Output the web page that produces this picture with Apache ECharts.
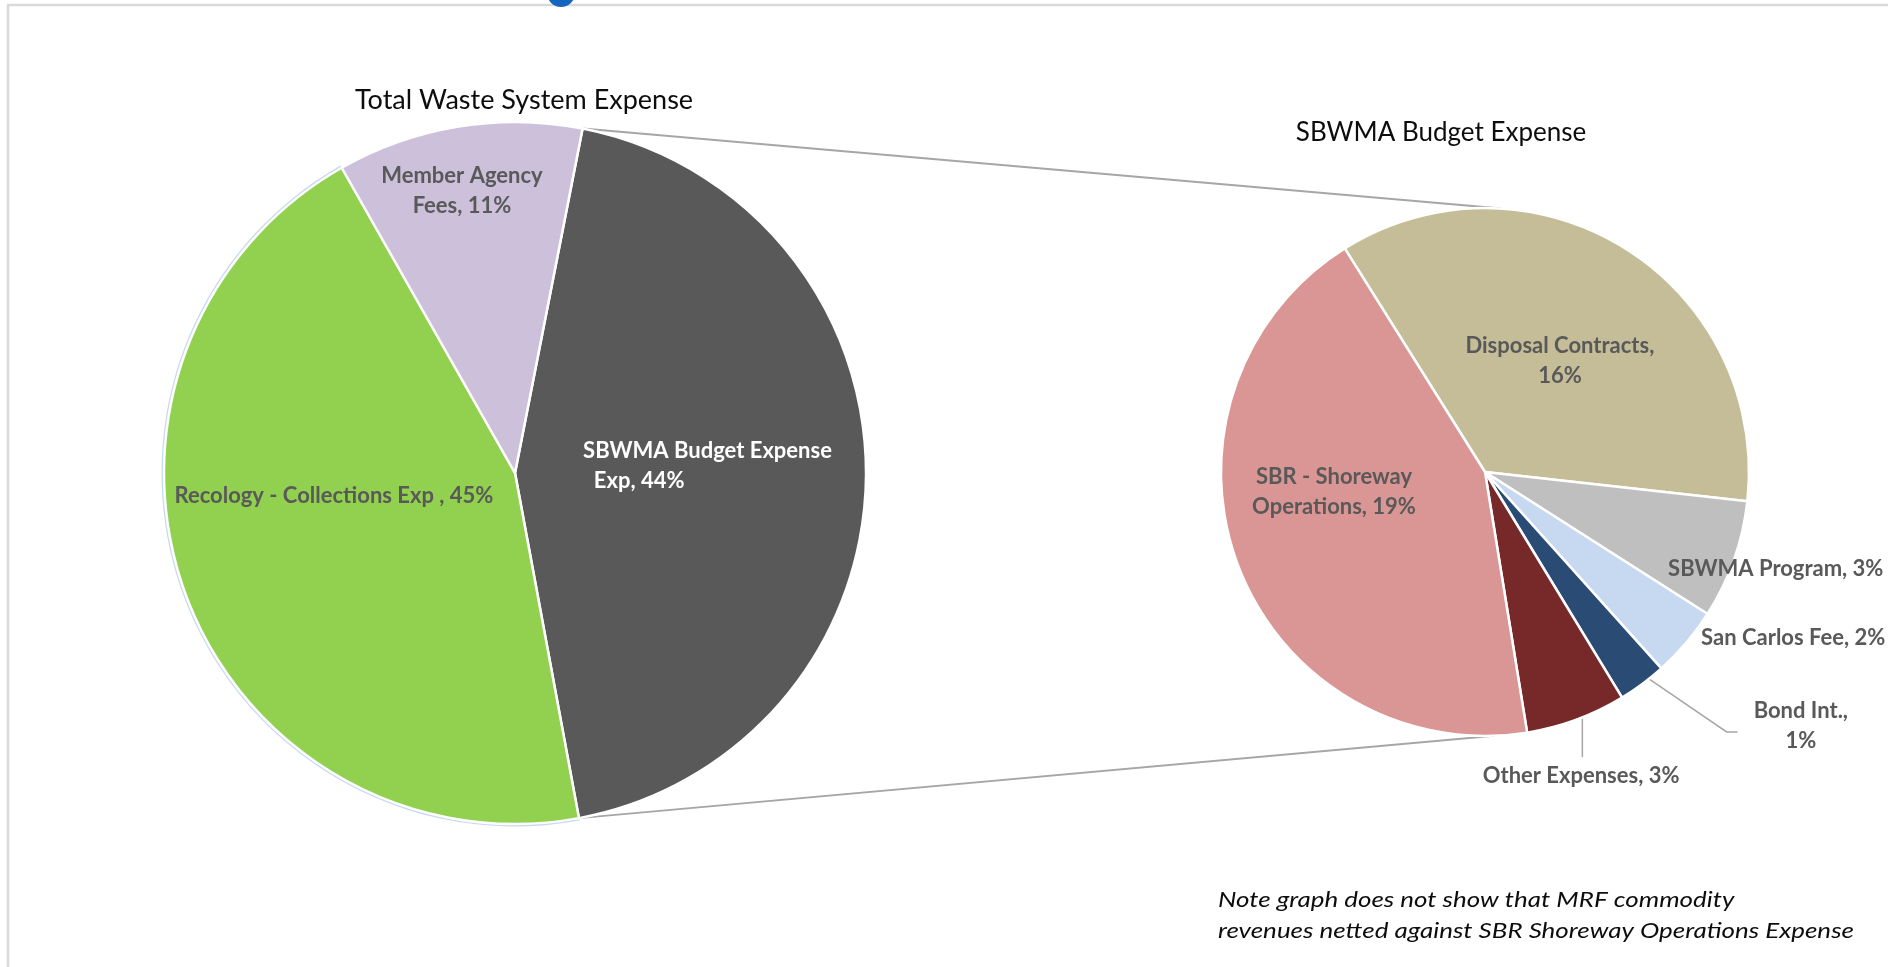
<!DOCTYPE html>
<html>
<head>
<meta charset="utf-8">
<script src="https://cdn.jsdelivr.net/npm/echarts@6/dist/echarts.min.js"></script>
<style>
html,body{margin:0;padding:0;background:#fff;}
#c{width:1888px;height:967px;}
</style>
</head>
<body>
<div id="c"></div>
<script>
// ---------- data ----------
const mainTitle = 'Total Waste System Expense';
const subTitle = 'SBWMA Budget Expense';
const mainNames = ['SBWMA Budget Expense', 'Recology - Collections Exp', 'Member Agency Fees'];
const mainValues = [44.0, 44.7, 11.3];
const mainLabelText = ['SBWMA Budget Expense\n  Exp, ', 'Recology - Collections Exp , ', 'Member Agency\nFees, '];

const subNames = ['Disposal Contracts', 'SBWMA Program', 'San Carlos Fee', 'Bond Int.', 'Other Expenses', 'SBR - Shoreway Operations'];
const subValues = [15.7, 3.2, 1.9, 1.3, 2.7, 19.2];
const subLabelText = ['Disposal Contracts,\n', 'SBWMA Program, ', 'San Carlos Fee, ', 'Bond Int.,\n', 'Other Expenses, ', 'SBR - Shoreway\nOperations, '];

const noteLines = ['Note graph does not show that MRF commodity', 'revenues netted against SBR Shoreway Operations Expense'];

// ---------- styles / layout ----------
const colors = {
  'SBWMA Budget Expense': '#595959',
  'Recology - Collections Exp': '#92d050',
  'Member Agency Fees': '#ccc0da',
  'Disposal Contracts': '#c4bd97',
  'SBWMA Program': '#bfbfbf',
  'San Carlos Fee': '#c6d9f1',
  'Bond Int.': '#2a4b74',
  'Other Expenses': '#772829',
  'SBR - Shoreway Operations': '#da9694'
};
const LEFT = {cx: 515, cy: 473, r: 351, startDeg: 11.1};
const RIGHT = {cx: 1485, cy: 472, r: 264, startDeg: -32.1};
const labelSpots = {
  'Member Agency Fees': {f: 0.818, shift: -1.4},
  'Recology - Collections Exp': {f: 0.52, shift: 12.8},
  'SBWMA Budget Expense': {f: 0.195, shift: -6.2, align: 'left', color: '#ffffff'},
  'Disposal Contracts': {f: 0.507, shift: 1.9},
  'SBR - Shoreway Operations': {f: 0.577, shift: 13.1},
  'SBWMA Program': {f: 0.785, shift: 8.5, align: 'left'},
  'San Carlos Fee': {f: 1.032, shift: -2.8, align: 'left'},
  'Bond Int.': {f: 1.535, shift: -14.6, line: 'elbow'},
  'Other Expenses': {f: 1.208, shift: 2.7, line: 'down'}
};
const FONT = 'Lato, "Open Sans", sans-serif';
const LABEL_COLOR = '#595959';

function sum(a) { return a.reduce((s, v) => s + v, 0); }
function polar(g, r, deg) {
  const t = deg * Math.PI / 180;
  return [g.cx + r * Math.sin(t), g.cy - r * Math.cos(t)];
}
function midAngles(values, startDeg) {
  const tot = sum(values);
  let a = startDeg;
  return values.map(v => { const s = v / tot * 360; const m = a + s / 2; a += s; return m; });
}
const grandTotal = sum(mainValues);
function pct(v) { return Math.round(v / grandTotal * 100) + '%'; }

function makeLayout(g, names, values) {
  const mids = midAngles(values, g.startDeg);
  return function (p) {
    const i = p.dataIndex;
    const spot = labelSpots[names[i]];
    const pos = polar(g, g.r * spot.f, mids[i] + spot.shift);
    const out = {x: pos[0], y: pos[1], align: spot.align || 'center', verticalAlign: 'middle'};
    const w = p.labelRect.width, h = p.labelRect.height;
    if (spot.line === 'elbow') {
      const s = polar(g, g.r, mids[i] - 1.8);
      const end = [pos[0] - w / 2 - 16, pos[1] + 6];
      out.labelLinePoints = [s, [end[0] - 11, end[1]], end];
    } else if (spot.line === 'down') {
      const s = polar(g, g.r, mids[i] - 1.4);
      const e = [s[0], pos[1] - h / 2 - 4];
      out.labelLinePoints = [s, [s[0], (s[1] + e[1]) / 2], e];
    }
    return out;
  };
}

function buildData(names, values, texts, outsideSet) {
  return names.map((n, i) => {
    const spot = labelSpots[n];
    return {
      name: n,
      value: values[i],
      itemStyle: {color: colors[n]},
      label: {
        formatter: texts[i] + pct(values[i]),
        color: spot.color || LABEL_COLOR,
        position: outsideSet.indexOf(n) >= 0 ? 'outside' : 'inside'
      },
      labelLine: {show: !!spot.line}
    };
  });
}

const mainData = buildData(mainNames, mainValues, mainLabelText, []);
const subData = buildData(subNames, subValues, subLabelText, ['SBWMA Program', 'San Carlos Fee', 'Bond Int.', 'Other Expenses']);

const labelCommon = {
  show: true,
  fontFamily: FONT,
  fontWeight: 'bold',
  fontSize: 22,
  lineHeight: 30
};

// connector lines from the SBWMA slice of the main pie to the secondary pie
const sbwmaSpan = mainValues[0] / grandTotal * 360;
const cTop0 = polar(LEFT, LEFT.r, LEFT.startDeg);
const cBot0 = polar(LEFT, LEFT.r, LEFT.startDeg + sbwmaSpan);
const cTop1 = polar(RIGHT, RIGHT.r, 3.5);
const cBot1 = polar(RIGHT, RIGHT.r, 178);

const chart = echarts.init(document.getElementById('c'), null, {renderer: 'canvas'});
chart.setOption({
  backgroundColor: '#ffffff',
  animation: false,
  graphic: [
    {type: 'rect', z: -10, shape: {x: 8, y: 5, width: 1920, height: 1000}, style: {fill: 'none', stroke: '#d9d9d9', lineWidth: 2.5}},
    {type: 'circle', z: 100, shape: {cx: 561, cy: -7, r: 14}, style: {fill: '#1565c0'}},
    {type: 'line', z: 0, shape: {x1: cTop0[0], y1: cTop0[1], x2: cTop1[0], y2: cTop1[1]}, style: {stroke: '#a6a6a6', lineWidth: 2}},
    {type: 'line', z: 0, shape: {x1: cBot0[0], y1: cBot0[1], x2: cBot1[0], y2: cBot1[1]}, style: {stroke: '#a6a6a6', lineWidth: 2}},
    {type: 'text', z: 10, x: 524, y: 100, style: {text: mainTitle, fill: '#0d0d0d', font: '27px ' + FONT, textAlign: 'center', textVerticalAlign: 'middle'}},
    {type: 'text', z: 10, x: 1441, y: 133, style: {text: subTitle, fill: '#0d0d0d', font: '26px ' + FONT, textAlign: 'center', textVerticalAlign: 'middle'}},
    {type: 'text', z: 10, x: 1218, y: 900, scaleX: 1.18, style: {text: noteLines[0], fill: '#0d0d0d', font: 'italic 22px ' + FONT, textAlign: 'left', textVerticalAlign: 'middle'}},
    {type: 'text', z: 10, x: 1218, y: 931, scaleX: 1.18, style: {text: noteLines[1], fill: '#0d0d0d', font: 'italic 22px ' + FONT, textAlign: 'left', textVerticalAlign: 'middle'}}
  ],
  series: [
    {
      // light blue rim behind the Recology slice
      type: 'pie', z: 1, silent: true,
      center: [LEFT.cx, LEFT.cy], radius: LEFT.r + 2.5,
      startAngle: 90 - LEFT.startDeg, clockwise: true,
      label: {show: false}, labelLine: {show: false},
      emphasis: {disabled: true},
      data: mainNames.map((n, i) => ({name: n, value: mainValues[i], itemStyle: {color: n === 'Recology - Collections Exp' ? '#c6d9f1' : 'rgba(0,0,0,0)'}}))
    },
    {
      type: 'pie', z: 2,
      center: [LEFT.cx, LEFT.cy], radius: LEFT.r,
      startAngle: 90 - LEFT.startDeg, clockwise: true,
      avoidLabelOverlap: false,
      itemStyle: {borderColor: '#ffffff', borderWidth: 2.5},
      label: labelCommon,
      labelLine: {show: false},
      labelLayout: makeLayout(LEFT, mainNames, mainValues),
      emphasis: {disabled: true},
      data: mainData
    },
    {
      type: 'pie', z: 2,
      center: [RIGHT.cx, RIGHT.cy], radius: RIGHT.r,
      startAngle: 90 - RIGHT.startDeg, clockwise: true,
      avoidLabelOverlap: false,
      itemStyle: {borderColor: '#ffffff', borderWidth: 2.5},
      label: labelCommon,
      labelLine: {show: false, lineStyle: {color: '#a6a6a6', width: 1.5}},
      labelLayout: makeLayout(RIGHT, subNames, subValues),
      emphasis: {disabled: true},
      data: subData
    }
  ]
});
</script>
</body>
</html>
